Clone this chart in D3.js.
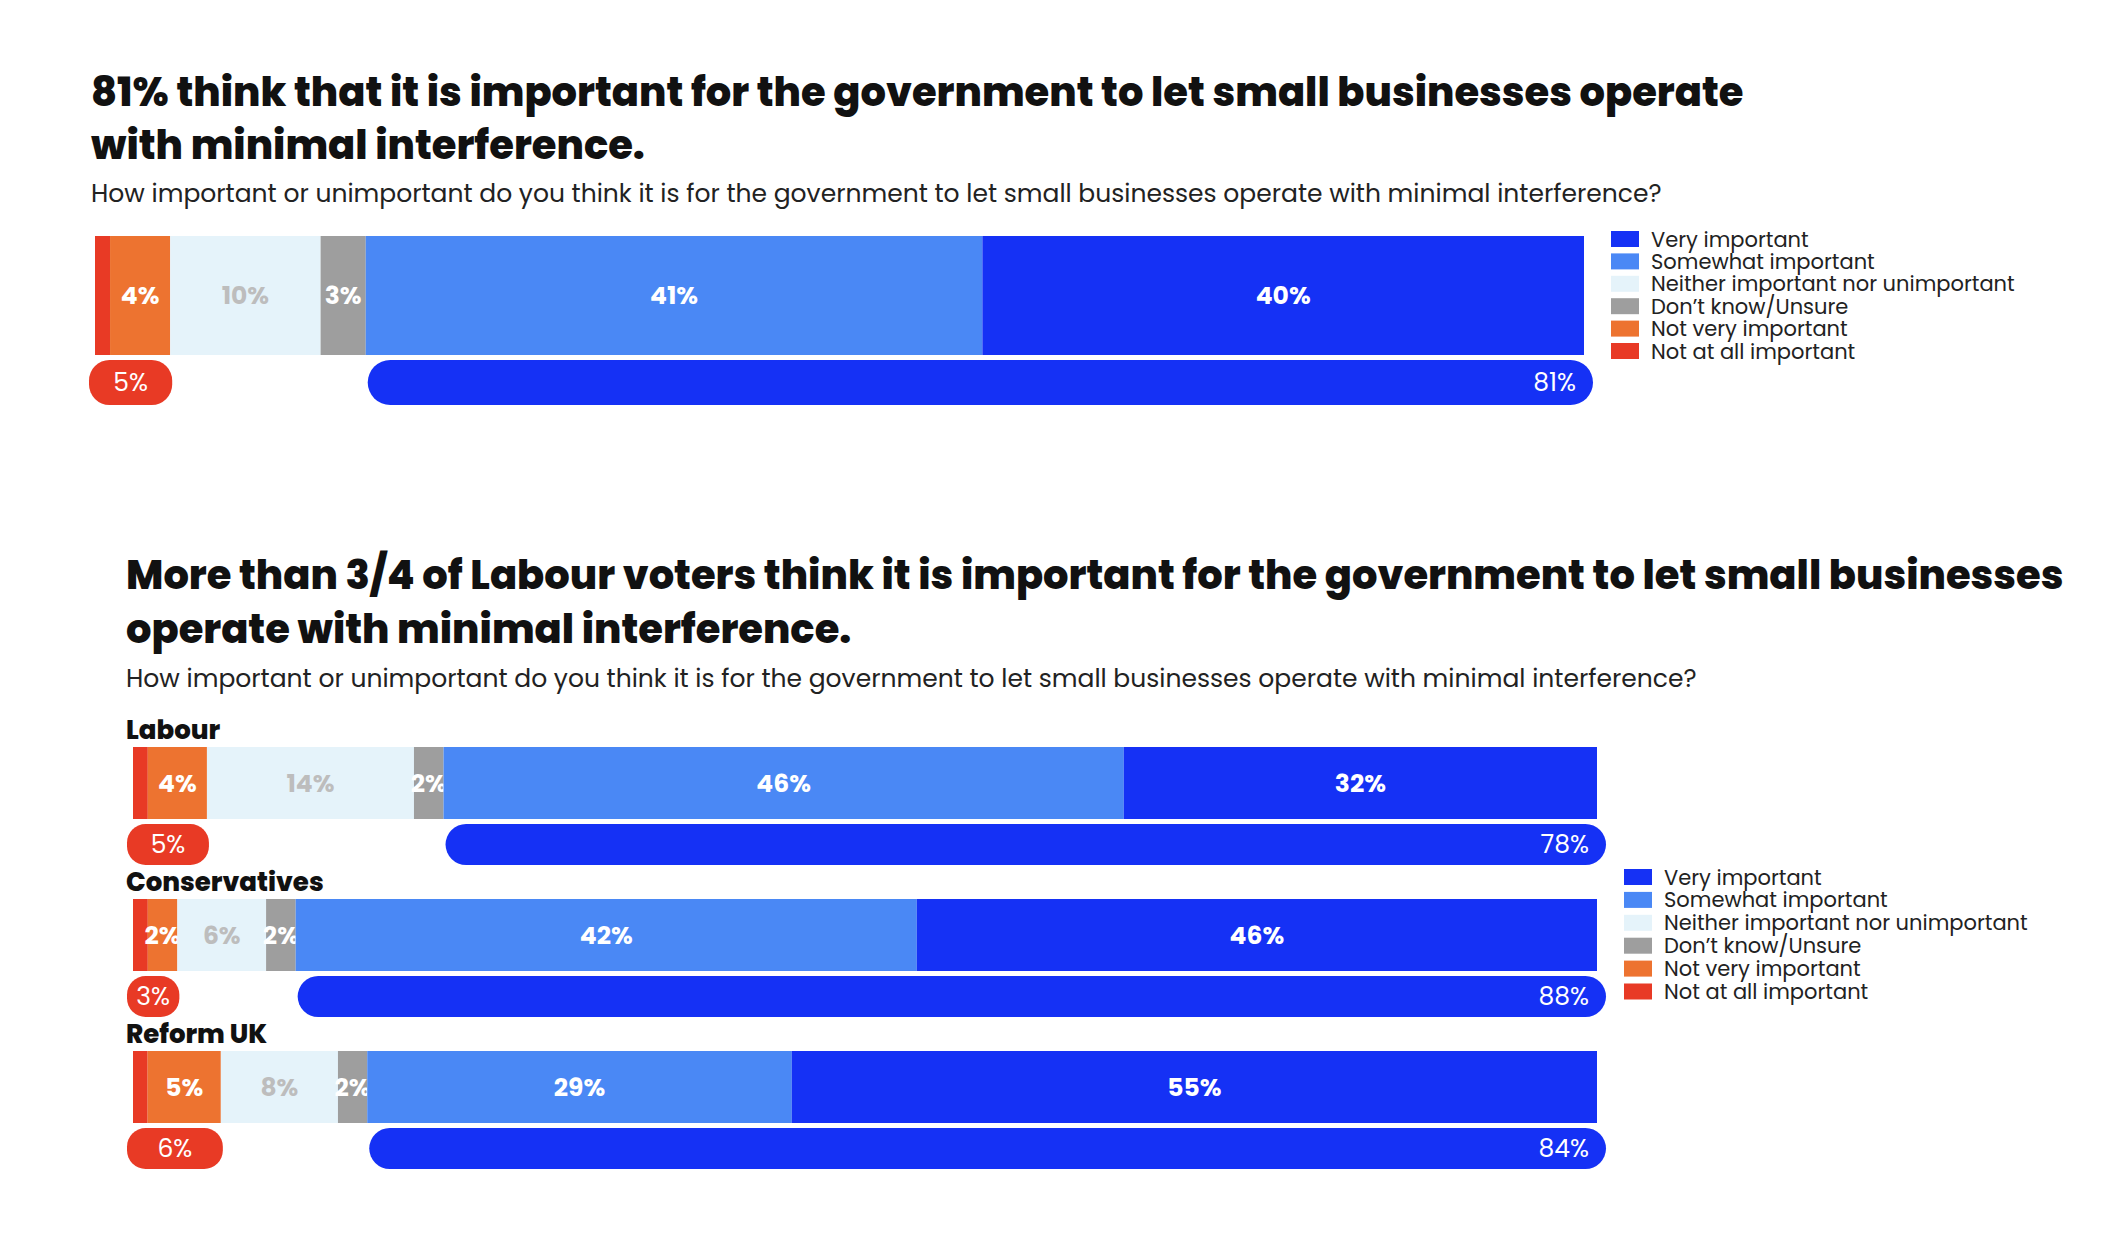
<!DOCTYPE html>
<html><head><meta charset="utf-8">
<script src="https://cdn.jsdelivr.net/npm/d3@7"></script>
<style>body{margin:0;background:#fff}text{font-family:Poppins,"Open Sans",Lato,sans-serif}</style>
</head><body><svg id="c" width="2126" height="1260"></svg>
<script>
const categories = ["Not at all important","Not very important","Neither important nor unimportant","Don\u2019t know/Unsure","Somewhat important","Very important"];
const colors = ["#e83a25","#ed7330","#e5f3fa","#9e9e9e","#4a88f5","#1531f5"];
const legendOrder = [5,4,2,3,1,0];
const rowsTop = ["All"];
const valuesTop = [[1,4,10,3,41,40]];
const netTop = [[5,81]];
const rowsParty = ["Labour","Conservatives","Reform UK"];
const valuesParty = [[1,4,14,2,46,32],[1,2,6,2,42,46],[1,5,8,2,29,55]];
const netParty = [[5,78],[3,88],[6,84]];

const svg = d3.select("#c");
function txt(x,y,s,size,w,fill,anchor){return svg.append("text").attr("x",x).attr("y",y).text(s).attr("font-size",size).attr("font-weight",w).attr("fill",fill||"#111").attr("text-anchor",anchor||"start").attr("dominant-baseline","central");}

function drawRow(vals, net, x0, x1, y, h, ph){
  const total = d3.sum(vals);
  const xs = d3.scaleLinear().domain([0,total]).range([x0,x1]);
  let cum=0;
  vals.forEach((v,i)=>{
    const a=xs(cum), b=xs(cum+v); cum+=v;
    svg.append("rect").attr("x",a).attr("y",y).attr("width",b-a).attr("height",h).attr("fill",colors[i]);
    if(i>0) txt((a+b)/2, y+h/2, v+"%", 25, 700, i==2?"#bdbdbd":"#fff","middle");
  });
  const py = y+h+5;
  const lw = Math.max(xs(net[0])-x0, 26)+8;
  svg.append("rect").attr("x",x0-6).attr("y",py).attr("width",lw).attr("height",ph).attr("rx",ph/2.2).attr("fill","#e83a25");
  txt(x0-6+lw/2, py+ph/2, net[0]+"%", 25, 400, "#fff","middle");
  const rs = xs(vals[0]+vals[1]+vals[2]+vals[3]);
  svg.append("rect").attr("x",rs+2).attr("y",py).attr("width",x1+9-rs-2).attr("height",ph).attr("rx",ph/2).attr("fill","#1531f5");
  txt(x1-8, py+ph/2, net[1]+"%", 25, 400, "#fff","end");
}
function legend(x,y,step){
  legendOrder.forEach((ci,k)=>{
    svg.append("rect").attr("x",x).attr("y",y+k*step-8).attr("width",28).attr("height",16).attr("fill",colors[ci]);
    txt(x+40,y+k*step,categories[ci],21,400,"#222");
  });
}
// top
txt(91,92,"81% think that it is important for the government to let small businesses operate",40,800);
txt(91,145,"with minimal interference.",40,800);
txt(91,193,"How important or unimportant do you think it is for the government to let small businesses operate with minimal interference?",25,400,"#222");
rowsTop.forEach((r,i)=>drawRow(valuesTop[i],netTop[i],95,1584,236,119,45));
legend(1611,239,22.4);
// bottom
txt(126,575,"More than 3/4 of Labour voters think it is important for the government to let small businesses",40,800);
txt(126,629,"operate with minimal interference.",40,800);
txt(126,678,"How important or unimportant do you think it is for the government to let small businesses operate with minimal interference?",25,400,"#222");
rowsParty.forEach((r,i)=>{
  const y=747+i*152;
  txt(126,y-17,r,26,800);
  drawRow(valuesParty[i],netParty[i],133,1597,y,72,41);
});
legend(1624,877,22.9);
</script></body></html>
